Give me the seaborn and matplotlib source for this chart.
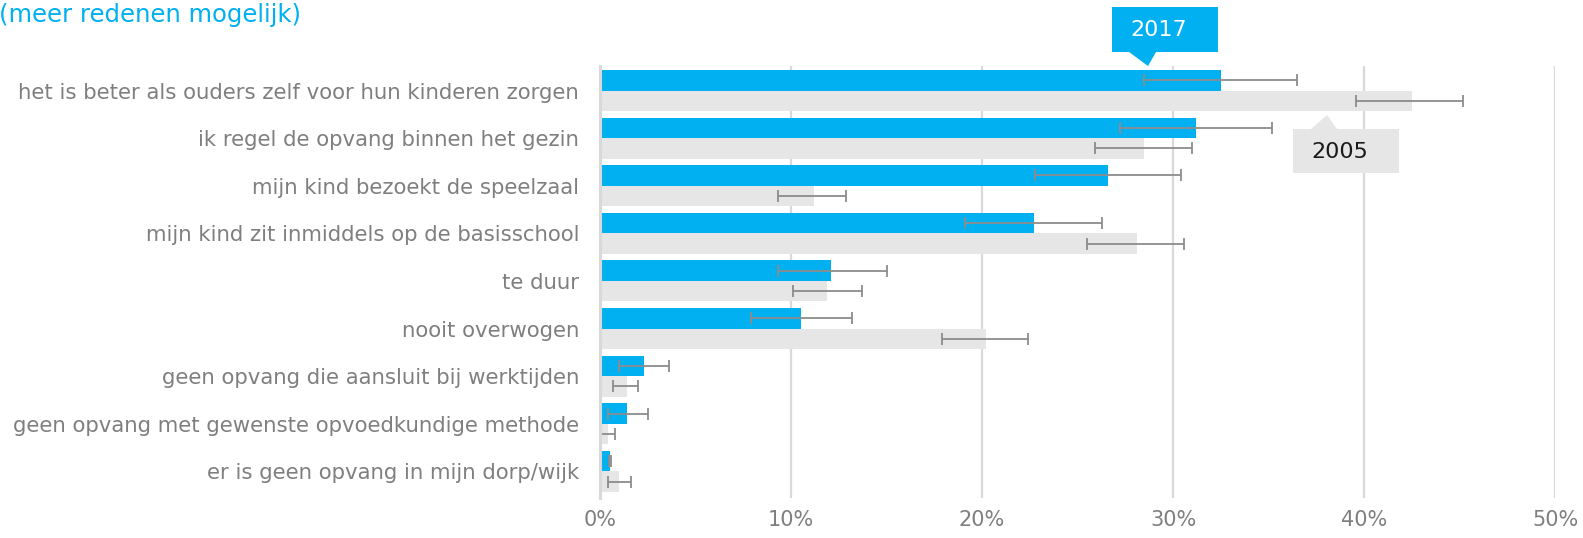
import matplotlib
matplotlib.use("Agg")
import matplotlib.pyplot as plt
from matplotlib.patches import Polygon
from matplotlib.container import BarContainer
import seaborn as sns
import pandas as pd
import numpy as np

categories = [
    "het is beter als ouders zelf voor hun kinderen zorgen",
    "ik regel de opvang binnen het gezin",
    "mijn kind bezoekt de speelzaal",
    "mijn kind zit inmiddels op de basisschool",
    "te duur",
    "nooit overwogen",
    "geen opvang die aansluit bij werktijden",
    "geen opvang met gewenste opvoedkundige methode",
    "er is geen opvang in mijn dorp/wijk",
]
years = ["2017", "2005"]
values_2017 = [32.5, 31.2, 26.6, 22.7, 12.1, 10.5, 2.3, 1.4, 0.5]
low_2017 = [28.5, 27.2, 22.8, 19.1, 9.3, 7.9, 1.0, 0.4, 0.45]
high_2017 = [36.5, 35.2, 30.4, 26.3, 15.0, 13.2, 3.6, 2.5, 0.55]
values_2005 = [42.5, 28.5, 11.2, 28.1, 11.9, 20.2, 1.4, 0.4, 1.0]
low_2005 = [39.6, 25.9, 9.3, 25.5, 10.1, 17.9, 0.7, 0.05, 0.4]
high_2005 = [45.2, 31.0, 12.9, 30.6, 13.7, 22.4, 2.0, 0.8, 1.6]
xticks = [0, 10, 20, 30, 40, 50]
xticklabels = ["0%", "10%", "20%", "30%", "40%", "50%"]
title = "(meer redenen mogelijk)"

BLUE = "#00B0F0"
GREY = "#E6E6E6"
TXT = "#7F7F7F"
ERR = "#8C8C8C"
GRID = "#D9D9D9"

df = pd.DataFrame({
    "reason": categories * 2,
    "value": values_2017 + values_2005,
    "year": [years[0]] * len(categories) + [years[1]] * len(categories),
})

sns.set_style("white")
plt.rcParams["font.family"] = ["DejaVu Sans"]

W, H = 1583, 538
fig = plt.figure(figsize=(W / 100, H / 100), dpi=100)
ax = fig.add_axes([600 / W, 1 - 498 / H, (1555 - 600) / W, (498 - 66) / H])

sns.barplot(data=df, y="reason", x="value", hue="year", orient="h",
            palette={years[0]: BLUE, years[1]: GREY}, hue_order=years,
            order=categories, width=0.86, errorbar=None, legend=False,
            saturation=1, linewidth=0, ax=ax, zorder=2)

lows = [low_2017, low_2005]
highs = [high_2017, high_2005]
bar_conts = [c for c in ax.containers if isinstance(c, BarContainer)]
for k, cont in enumerate(bar_conts):
    ys = np.array([b.get_y() + b.get_height() / 2 for b in cont])
    lo = np.array(lows[k])
    hi = np.array(highs[k])
    mid = (lo + hi) / 2
    ax.errorbar(mid, ys, xerr=[mid - lo, hi - mid], fmt="none",
                ecolor=ERR, elinewidth=1.3, capsize=4, capthick=1.3, zorder=4)

ax.set_xlim(0, 50)
ax.set_ylim(len(categories) - 1 + 0.56, -0.515)
ax.set_xticks(xticks)
ax.set_xticklabels(xticklabels)
ax.set_xlabel("")
ax.set_ylabel("")
ax.tick_params(axis="x", length=0, pad=9, labelsize=15, labelcolor=TXT)
ax.tick_params(axis="y", length=0, pad=15, labelsize=15.3, labelcolor=TXT)
for s in ["top", "right", "bottom"]:
    ax.spines[s].set_visible(False)
ax.spines["left"].set_color(GRID)
ax.spines["left"].set_linewidth(2.2)
ax.spines["left"].set_zorder(5)
for x in xticks[1:]:
    ax.axvline(x, color=GRID, linewidth=1.6, zorder=1)

def px(x, y):
    return (x / W, 1 - y / H)

# 2017 callout
box17 = [px(1112, 7), px(1218, 7), px(1218, 52), px(1156, 52), px(1148, 66),
         px(1129, 52), px(1112, 52)]
fig.patches.append(Polygon(box17, closed=True, facecolor=BLUE, edgecolor="none",
                           transform=fig.transFigure, zorder=10))
fig.text(*px(1159, 30), years[0], color="white", fontsize=16,
         ha="center", va="center", zorder=11)

# 2005 callout
box05 = [px(1293, 129), px(1311, 129), px(1327, 115), px(1337, 129),
         px(1399, 129), px(1399, 173), px(1293, 173)]
fig.patches.append(Polygon(box05, closed=True, facecolor=GREY, edgecolor="none",
                           transform=fig.transFigure, zorder=10))
fig.text(*px(1340, 152), years[1], color="#1A1A1A", fontsize=16,
         ha="center", va="center", zorder=11)

fig.text(*px(-1, 15), title, color=BLUE, fontsize=17.5, ha="left", va="center")

fig.savefig("out.png", dpi=100)
